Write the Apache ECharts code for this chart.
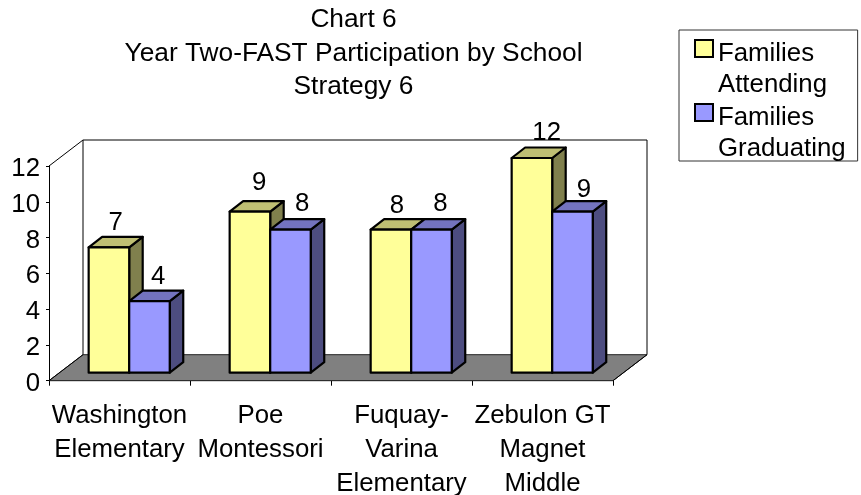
<!DOCTYPE html>
<html><head><meta charset="utf-8">
<style>html,body{margin:0;padding:0;background:#fff}#c{width:861px;height:495px}</style>
<script src="https://cdn.jsdelivr.net/npm/echarts@6/dist/echarts.min.js"></script>
</head><body><div id="c"></div>
<script>
const categories = ['Washington\nElementary','Poe\nMontessori','Fuquay-\nVarina\nElementary','Zebulon GT\nMagnet\nMiddle'];
const attending = [7, 9, 8, 12];
const graduating = [4, 8, 8, 9];
const yTicks = {min:0, max:12, interval:2};
const FONT = '"Liberation Sans", Arial, sans-serif';
const FS = 25.8;

const wallDepth = {x:34, y:-26};
const barDepth = {x:13.5, y:-10.5};
const barShift = {x:9.7, y:-8};
const barFrac = 0.2875;
// hand-placed data label nudges of the original, per series and category
const nudgeA = [[0,0],[2.6,-4],[-0.7,1.5],[8,-0.5]];
const nudgeG = [[2,1],[5,-1],[2.3,-1],[4.6,3.3]];

function pts(a){return {points:a};}
function wallItem(params, api){
  const r = params.coordSys;
  const L=r.x, R=r.x+r.width, T=r.y, B=r.y+r.height, dx=wallDepth.x, dy=wallDepth.y;
  const line={stroke:'#000',lineWidth:1,fill:'none'};
  return {type:'group',silent:true,children:[
    {type:'polygon',shape:pts([[L,B],[R,B],[R+dx,B+dy],[L+dx,B+dy]]),style:{fill:'#808080',stroke:'#222',lineWidth:1}},
    {type:'polyline',shape:pts([[L,T],[L+dx,T+dy],[R+dx,T+dy],[R+dx,B+dy],[R,B]]),style:line},
    {type:'line',shape:{x1:L+dx,y1:T+dy,x2:L+dx,y2:B+dy},style:line},
    {type:'line',shape:{x1:L,y1:B,x2:L+dx,y2:B+dy},style:line}
  ]};
}
function barItem(side, nudge, front, top, dark){
  return function(params, api){
    const i=api.value(0), v=api.value(1);
    const band=api.size([1,0])[0], w=band*barFrac;
    const base=api.coord([i,0]), peak=api.coord([i,v]);
    const x0=base[0]+barShift.x+(side===0?-w:0), x1=x0+w;
    const y0=base[1]+barShift.y, y1=peak[1]+barShift.y;
    const dx=barDepth.x, dy=barDepth.y;
    const edge={stroke:'#000',lineWidth:2.2,lineJoin:'round'};
    return {type:'group',children:[
      {type:'polygon',shape:pts([[x1,y0],[x1+dx,y0+dy],[x1+dx,y1+dy],[x1,y1]]),style:Object.assign({fill:dark},edge)},
      {type:'polygon',shape:pts([[x0,y1],[x1,y1],[x1+dx,y1+dy],[x0+dx,y1+dy]]),style:Object.assign({fill:top},edge)},
      {type:'rect',shape:{x:x0,y:y1,width:w,height:y0-y1},style:Object.assign({fill:front},edge)},
      {type:'text',style:{x:(x0+x1)/2+dx/2+nudge[i][0],y:y1-25+nudge[i][1],text:String(v),fill:'#000',font:FS+'px '+FONT,align:'center',verticalAlign:'middle'}}
    ]};
  };
}
const chart = echarts.init(document.getElementById('c'),null,{renderer:'canvas'});
chart.setOption({
  animation:false,
  backgroundColor:'#fff',
  textStyle:{fontFamily:FONT},
  title:{left:348.5,top:-2,textAlign:'center',text:'Chart 6\nYear Two-FAST Participation by School\nStrategy 6',
    textStyle:{fontFamily:FONT,fontSize:26.3,fontWeight:'normal',color:'#000',lineHeight:33.5}},
  grid:{left:49,top:166,width:564,height:214.7,outerBoundsMode:'none'},
  legend:{orient:'vertical',left:679,top:30,padding:[7,12,-4,15],itemGap:0,itemWidth:18,itemHeight:62,
    borderColor:'#333',borderWidth:1,backgroundColor:'#fff',selectedMode:false,
    formatter:n=>n.replace(' ','\n'),
    textStyle:{fontFamily:FONT,fontSize:FS,color:'#000',lineHeight:31,padding:[0,0,0,0]},
    data:[
      {name:'Families Attending',icon:'path://M0 0L0 0M0 2H18V19H0ZM0 62L0 62',itemStyle:{color:'#FFFF99',borderColor:'#000',borderWidth:2}},
      {name:'Families Graduating',icon:'path://M0 0L0 0M0 2H18V19H0ZM0 62L0 62',itemStyle:{color:'#9999FF',borderColor:'#000',borderWidth:2}}
    ]},
  xAxis:{type:'category',data:categories,
    axisLine:{show:true,lineStyle:{color:'#000',width:1}},
    axisTick:{show:true,length:5,alignWithLabel:false,lineStyle:{color:'#000'}},
    axisLabel:{interval:0,margin:18,color:'#000',fontFamily:FONT,fontSize:FS,lineHeight:34,hideOverlap:false}},
  yAxis:{type:'value',min:yTicks.min,max:yTicks.max,interval:yTicks.interval,
    splitLine:{show:false},
    axisLine:{show:true,lineStyle:{color:'#000',width:1}},
    axisTick:{show:true,length:3,lineStyle:{color:'#000'}},
    axisLabel:{margin:9,color:'#000',fontFamily:FONT,fontSize:FS,verticalAlign:'middle',verticalAlignMaxLabel:'middle',verticalAlignMinLabel:'middle',
      formatter:'{n|{value}}',rich:{n:{fontFamily:FONT,fontSize:FS,color:'#000',padding:[6,0,0,0]}}}},
  series:[
    {type:'custom',name:'wall',data:[[0,0]],renderItem:wallItem,silent:true,clip:false,z:1},
    {type:'custom',name:'Families Attending',data:attending.map((v,i)=>[i,v]),encode:{x:0,y:1},clip:false,z:2,
      itemStyle:{color:'#FFFF99'},renderItem:barItem(0,nudgeA,'#FFFF99','#BFBF73','#80804D')},
    {type:'custom',name:'Families Graduating',data:graduating.map((v,i)=>[i,v]),encode:{x:0,y:1},clip:false,z:3,
      itemStyle:{color:'#9999FF'},renderItem:barItem(1,nudgeG,'#9999FF','#7373BF','#4D4D80')}
  ]
});
</script></body></html>
